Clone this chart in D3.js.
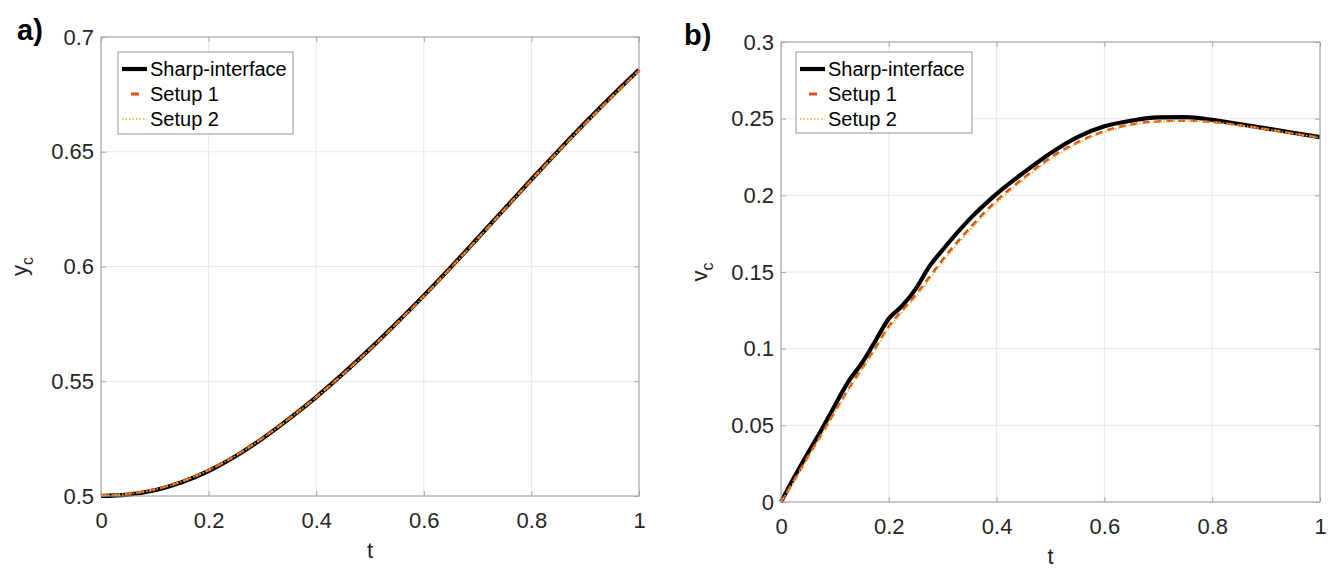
<!DOCTYPE html>
<html>
  <head>
    <meta http-equiv="Content-Type" content="text/html;charset=utf-8"/>
    <title>yc and vc</title>
    <script src="https://d3js.org/d3.v7.min.js"></script>
    <style>
      body { margin: 0; background: #fff; }
      #content { position: relative; }
      text { font-family: "Liberation Sans", Arial, sans-serif; }
    </style>
  </head>
  <body>
    <div id="content"></div>
    <script type="text/javascript">

        // ---- data ----
        const seriesNames = ['Sharp-interface', 'Setup 1', 'Setup 2']
        const xTicks = [0, 0.2, 0.4, 0.6, 0.8, 1]
        const xTickLabels = ['0', '0.2', '0.4', '0.6', '0.8', '1']

        // panel a) y_c
        const tA = [0, 0.05, 0.1, 0.15, 0.2, 0.25, 0.3, 0.35, 0.4, 0.45, 0.5,
                    0.55, 0.6, 0.65, 0.7, 0.75, 0.8, 0.85, 0.9, 0.95, 1.0]
        const ycSharp  = [0.5000, 0.5006, 0.5025, 0.5060, 0.5109, 0.5173, 0.5250, 0.5337, 0.5431, 0.5533, 0.5641,
                          0.5755, 0.5873, 0.5996, 0.6123, 0.6251, 0.6379, 0.6504, 0.6626, 0.6744, 0.6857]
        const ycSetup1 = [0.5003, 0.5010, 0.5029, 0.5064, 0.5113, 0.5176, 0.5252, 0.5338, 0.5431, 0.5532, 0.5640,
                          0.5753, 0.5871, 0.5994, 0.6121, 0.6249, 0.6377, 0.6502, 0.6623, 0.6741, 0.6853]
        const ycSetup2 = [0.5003, 0.5009, 0.5028, 0.5063, 0.5112, 0.5175, 0.5251, 0.5337, 0.5430, 0.5531, 0.5639,
                          0.5752, 0.5870, 0.5993, 0.6120, 0.6248, 0.6376, 0.6501, 0.6622, 0.6740, 0.6852]
        const ycTicks = [0.5, 0.55, 0.6, 0.65, 0.7]
        const ycTickLabels = ['0.5', '0.55', '0.6', '0.65', '0.7']

        // panel b) v_c
        const tB = [0, 0.025, 0.05, 0.075, 0.1, 0.125, 0.15, 0.175, 0.2, 0.225, 0.25, 0.275, 0.3,
                    0.35, 0.4, 0.45, 0.5, 0.55, 0.6, 0.65, 0.7, 0.75, 0.8, 0.85, 0.9, 0.95, 1.0]
        const vcSharp  = [0, 0.0165, 0.032, 0.047, 0.063, 0.0785, 0.0905, 0.105, 0.1196, 0.128, 0.139, 0.1535, 0.1645,
                          0.1845, 0.201, 0.2148, 0.2275, 0.238, 0.2450, 0.2487, 0.2508, 0.2510, 0.2492, 0.2465, 0.2437, 0.2408, 0.2380]
        const vcSetup1 = [0, 0.0145, 0.0295, 0.044, 0.059, 0.0735, 0.087, 0.1005, 0.1145, 0.125, 0.135, 0.1465, 0.158,
                          0.1785, 0.1965, 0.2112, 0.2245, 0.2345, 0.2418, 0.2462, 0.2482, 0.2487, 0.2478, 0.2458, 0.2432, 0.2404, 0.2376]
        const vcSetup2 = [0, 0.014, 0.029, 0.0435, 0.0583, 0.0728, 0.0862, 0.0995, 0.1135, 0.1238, 0.1338, 0.1452, 0.1565,
                          0.1772, 0.1952, 0.2102, 0.2236, 0.2338, 0.2412, 0.2458, 0.2479, 0.2485, 0.2477, 0.2457, 0.2431, 0.2403, 0.2375]
        const vcTicks = [0, 0.05, 0.1, 0.15, 0.2, 0.25, 0.3]
        const vcTickLabels = ['0', '0.05', '0.1', '0.15', '0.2', '0.25', '0.3']

        // ---- styles ----
        const frameColor = '#a6a6a6',
              gridColor = '#e8e8e8',
              tickTextColor = '#262626',
              styles = [
                  { color: '#000000', width: 4.2, dash: null },
                  { color: '#d95319', width: 2.6, dash: '7,5' },
                  { color: '#edb120', width: 1.6, dash: '1.5,2' }
              ]

        const svg = d3.select('#content').append('svg')
            .attr('width', 1333).attr('height', 570)

        function drawPanel(p) {
            const xScale = d3.scaleLinear().domain([0, 1]).range([p.left, p.right])
            const yScale = d3.scaleLinear().domain(p.yDomain).range([p.bottom, p.top])
            const g = svg.append('g')

            // grid
            g.append('g').selectAll('line').data(xTicks.slice(1, -1)).enter().append('line')
                .attr('x1', d => xScale(d)).attr('x2', d => xScale(d))
                .attr('y1', p.top).attr('y2', p.bottom)
                .attr('stroke', gridColor).attr('stroke-width', 1)
            g.append('g').selectAll('line').data(p.yTicks.slice(1, -1)).enter().append('line')
                .attr('y1', d => yScale(d)).attr('y2', d => yScale(d))
                .attr('x1', p.left).attr('x2', p.right)
                .attr('stroke', gridColor).attr('stroke-width', 1)

            // axes (ticks point inward)
            const xAxis = d3.axisBottom(xScale).tickValues(xTicks)
                .tickFormat((d, i) => xTickLabels[i]).tickSizeInner(-5).tickSizeOuter(0).tickPadding(16)
            const yAxis = d3.axisLeft(yScale).tickValues(p.yTicks)
                .tickFormat((d, i) => p.yTickLabels[i]).tickSizeInner(-5).tickSizeOuter(0).tickPadding(7)
            const xTop = d3.axisTop(xScale).tickValues(xTicks).tickFormat('').tickSizeInner(-5).tickSizeOuter(0)
            const yRight = d3.axisRight(yScale).tickValues(p.yTicks).tickFormat('').tickSizeInner(-5).tickSizeOuter(0)

            const axes = [
                g.append('g').attr('transform', 'translate(0,' + p.bottom + ')').call(xAxis),
                g.append('g').attr('transform', 'translate(' + p.left + ',0)').call(yAxis),
                g.append('g').attr('transform', 'translate(0,' + p.top + ')').call(xTop),
                g.append('g').attr('transform', 'translate(' + p.right + ',0)').call(yRight)
            ]
            axes.forEach(a => {
                a.select('.domain').remove()
                a.selectAll('line').attr('stroke', frameColor)
                a.selectAll('text').attr('fill', tickTextColor).style('font-size', '22px')
                    .style('font-family', '"Liberation Sans", Arial, sans-serif')
            })

            // curves
            const line = d3.line()
                .x(d => xScale(d[0])).y(d => yScale(d[1]))
                .curve(d3.curveMonotoneX)
            p.series.forEach((vals, i) => {
                const pts = p.t.map((t, j) => [t, vals[j]])
                g.append('path').datum(pts)
                    .attr('d', line)
                    .attr('fill', 'none')
                    .attr('stroke', styles[i].color)
                    .attr('stroke-width', styles[i].width)
                    .attr('stroke-dasharray', styles[i].dash)
            })

            // frame
            g.append('rect')
                .attr('x', p.left).attr('y', p.top)
                .attr('width', p.right - p.left).attr('height', p.bottom - p.top)
                .attr('fill', 'none').attr('stroke', frameColor).attr('stroke-width', 1.2)

            // legend
            const lg = g.append('g')
            lg.append('rect')
                .attr('x', p.legend.x).attr('y', p.legend.y)
                .attr('width', p.legend.w).attr('height', p.legend.h)
                .attr('fill', '#fff').attr('stroke', frameColor).attr('stroke-width', 1.2)
            seriesNames.forEach((name, i) => {
                const cy = p.legend.y + 17 + i * 25
                lg.append('line')
                    .attr('x1', p.legend.x + 4).attr('x2', p.legend.x + 29)
                    .attr('y1', cy).attr('y2', cy)
                    .attr('stroke', styles[i].color)
                    .attr('stroke-width', i === 1 ? 3 : styles[i].width)
                    .attr('stroke-dasharray', i === 1 ? '0,9,8,20' : styles[i].dash)
                lg.append('text')
                    .attr('x', p.legend.x + 32).attr('y', cy + 7)
                    .attr('fill', '#000').style('font-size', '20px')
                    .text(name)
            })

            // axis labels
            g.append('text')
                .attr('x', (p.left + p.right) / 2).attr('y', p.bottom + 62)
                .attr('text-anchor', 'middle').attr('fill', tickTextColor)
                .style('font-size', '22px').text('t')
            const yl = g.append('text')
                .attr('transform', 'translate(' + p.yLabelX + ',' + ((p.top + p.bottom) / 2) + ') rotate(-90)')
                .attr('text-anchor', 'middle').attr('fill', tickTextColor)
                .style('font-size', '22px')
            yl.append('tspan').text(p.yLabel)
            yl.append('tspan').attr('dy', 6).style('font-size', '16px').text('c')

            // panel letter
            g.append('text')
                .attr('x', p.letterX).attr('y', p.letterY)
                .attr('fill', '#000').style('font-size', '29px').style('font-weight', 'bold')
                .text(p.letter)
        }

        drawPanel({
            left: 101, right: 639, top: 37, bottom: 496,
            yDomain: [0.5, 0.7], yTicks: ycTicks, yTickLabels: ycTickLabels,
            t: tA, series: [ycSharp, ycSetup1, ycSetup2],
            legend: { x: 118, y: 52, w: 175, h: 82 },
            yLabel: 'y', yLabelX: 27,
            letter: 'a)', letterX: 17, letterY: 40
        })

        drawPanel({
            left: 781, right: 1320, top: 42, bottom: 502,
            yDomain: [0, 0.3], yTicks: vcTicks, yTickLabels: vcTickLabels,
            t: tB, series: [vcSharp, vcSetup1, vcSetup2],
            legend: { x: 796, y: 52, w: 176, h: 81 },
            yLabel: 'v', yLabelX: 707,
            letter: 'b)', letterX: 684, letterY: 45
        })

    </script>
  </body>
</html>
